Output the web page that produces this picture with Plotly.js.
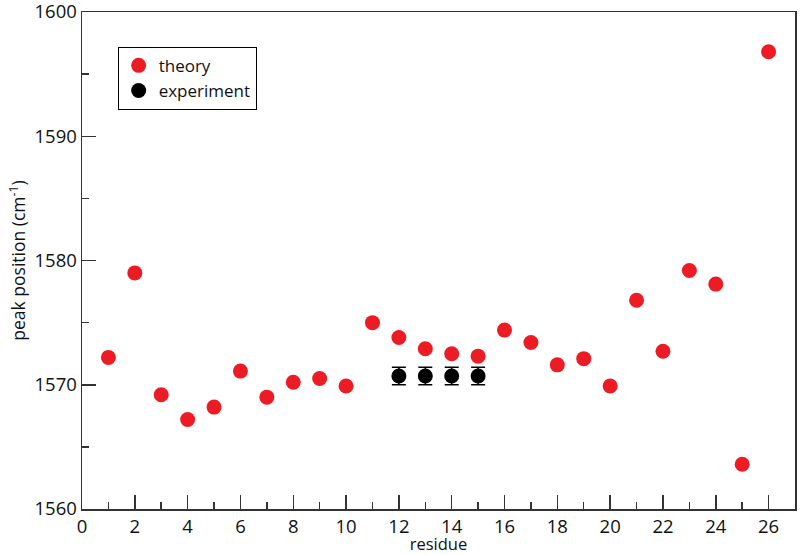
<!DOCTYPE html>
<html>
<head>
<meta charset="utf-8">
<script src="https://cdn.plot.ly/plotly-3.0.1.min.js"></script>
<style>
  html, body { margin: 0; padding: 0; background: #fff; }
  #grafica { width: 800px; height: 555px; }
</style>
</head>
<body>
<div id="grafica"></div>
<script>
// theory: one peak per residue
const residues = [1, 2, 3, 4, 5, 6, 7, 8, 9, 10, 11, 12, 13, 14, 15, 16, 17, 18, 19, 20, 21, 22, 23, 24, 25, 26];
const theory = [1572.2, 1579.0, 1569.2, 1567.2, 1568.2, 1571.1, 1569.0, 1570.2, 1570.5, 1569.9,
  1575.0, 1573.8, 1572.9, 1572.5, 1572.3, 1574.4, 1573.4, 1571.6, 1572.1, 1569.9,
  1576.8, 1572.7, 1579.2, 1578.1, 1563.6, 1596.8];

// experiment: only residues 12-15
const expResidues = [12, 13, 14, 15];
const experiment = [1570.7, 1570.7, 1570.7, 1570.7];
const expError = [0.7, 0.7, 0.7, 0.7];

const yTicks = [1560, 1570, 1580, 1590, 1600];

const fuente = 'Open Sans, Arial, sans-serif';

const trazas = [
  {
    x: residues,
    y: theory,
    mode: 'markers',
    type: 'scatter',
    name: 'theory',
    marker: { size: 15, color: '#ed1c24' }
  },
  {
    x: expResidues,
    y: experiment,
    mode: 'markers',
    type: 'scatter',
    name: 'experiment',
    marker: { size: 15, color: '#000000' },
    error_y: { type: 'data', array: expError, visible: true, color: '#000', thickness: 1.5, width: 7 }
  }
];

const ejeComun = {
  showgrid: false,
  zeroline: false,
  showline: true,
  linecolor: '#333',
  linewidth: 1.5,
  mirror: true,
  ticks: 'inside',
  ticklen: 14,
  tickwidth: 1.5,
  tickcolor: '#333',
  ticklabeloverflow: 'allow',
  tickfont: { family: fuente, size: 18.5, color: '#111' }
};

const layout = {
  width: 800,
  height: 555,
  margin: { l: 82, r: 5, t: 12, b: 46 },
  paper_bgcolor: '#fff',
  plot_bgcolor: '#fff',
  font: { family: fuente, color: '#111' },
  xaxis: Object.assign({}, ejeComun, {
    range: [0, 27],
    dtick: 2,
    tick0: 0,
    minor: { dtick: 1, ticks: 'inside', ticklen: 7, tickwidth: 1.5, tickcolor: '#333' },
    title: { text: 'residue', font: { family: fuente, size: 16.5, color: '#111' }, standoff: 2 }
  }),
  yaxis: Object.assign({}, ejeComun, {
    range: [1560, 1600],
    tickmode: 'array',
    tickvals: yTicks,
    ticktext: yTicks.map(String),
    minor: { dtick: 5, tick0: 1560, ticks: 'inside', ticklen: 7, tickwidth: 1.5, tickcolor: '#333' },
    title: { text: 'peak position (cm<sup>-1</sup>)', font: { family: fuente, size: 17.5, color: '#111' }, standoff: 4 }
  }),
  showlegend: true,
  legend: {
    x: 0.05, y: 0.93,
    xanchor: 'left', yanchor: 'top',
    bordercolor: '#000', borderwidth: 1,
    bgcolor: '#fff',
    font: { family: fuente, size: 17, color: '#111' }
  }
};

Plotly.newPlot('grafica', trazas, layout, { displayModeBar: false, staticPlot: true });
</script>
</body>
</html>
